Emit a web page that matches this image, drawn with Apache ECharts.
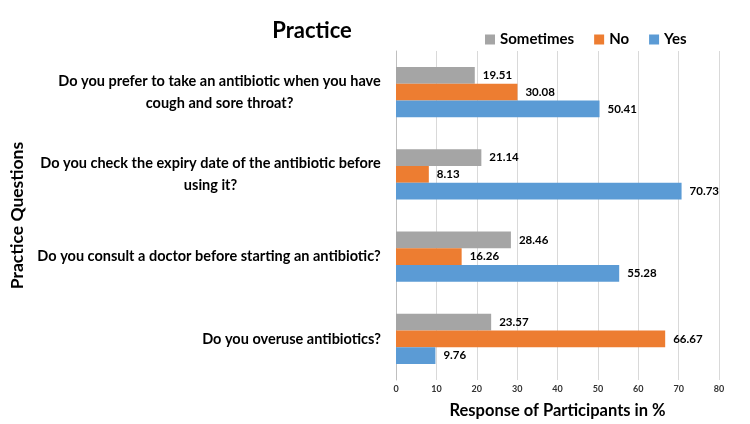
<!DOCTYPE html>
<html>
<head>
<meta charset="utf-8">
<script src="https://cdn.jsdelivr.net/npm/echarts@6/dist/echarts.min.js"></script>
<style>
  html, body { margin: 0; padding: 0; background: #fff; }
  #chart { width: 750px; height: 424px; }
</style>
</head>
<body>
<div id="chart"></div>
<script>
// bottom-to-top order, as the category axis runs upward
const questions = [
  ["Do you overuse antibiotics?"],
  ["Do you consult a doctor before starting an antibiotic?"],
  ["Do you check the expiry date of the antibiotic before", "using it?"],
  ["Do you prefer to take an antibiotic when you have", "cough and sore throat?"],
];
const yesValues = [9.76, 55.28, 70.73, 50.41];
const noValues = [66.67, 16.26, 8.13, 30.08];
const sometimesValues = [23.57, 28.46, 21.14, 19.51];
const legendOrder = ["Sometimes", "No", "Yes"];

const labelSize = 14.5;
const measure = document.createElement("canvas").getContext("2d");
measure.font = "bold " + labelSize + "px Lato";

// each label gets its own rich style so wrapped lines center under the first line
const rich = {};
questions.forEach((lines, i) => {
  const w = Math.max(...lines.map((l) => measure.measureText(l).width));
  rich["q" + i] = { width: Math.ceil(w), align: "center", fontFamily: "Lato", fontWeight: "bold", fontSize: labelSize, color: "#000", lineHeight: 22 };
});

const chart = echarts.init(document.getElementById("chart"));
const barLabel = {
  show: true,
  position: "right",
  distance: 8,
  color: "#000",
  fontFamily: "Lato",
  fontWeight: "bold",
  fontSize: 11.5,
};
chart.setOption({
  animation: false,
  title: {
    text: "Practice",
    left: 307,
    top: 15,
    textAlign: "center",
    textStyle: { fontFamily: "Lato", fontWeight: "bold", fontSize: 22, color: "#000" },
  },
  legend: {
    data: legendOrder,
    top: 27,
    left: 480,
    itemWidth: 10,
    itemHeight: 10,
    itemGap: 20,
    icon: "rect",
    textStyle: { fontFamily: "Lato", fontWeight: "bold", fontSize: 15, color: "#000" },
  },
  grid: { left: 396, right: 31, top: 51, bottom: 34, containLabel: false },
  xAxis: {
    type: "value",
    min: 0,
    max: 80,
    interval: 10,
    name: "Response of Participants in %",
    nameLocation: "middle",
    nameGap: 22,
    nameTextStyle: { fontFamily: "Lato", fontWeight: "bold", fontSize: 16.5, color: "#000" },
    axisLine: { show: false },
    axisTick: { show: false },
    axisLabel: { fontFamily: "Lato", fontWeight: "bold", fontSize: 9, color: "#333", margin: 5 },
    splitLine: { show: true, lineStyle: { color: "#d9d9d9", width: 1 } },
  },
  yAxis: {
    type: "category",
    data: questions.map((q) => q.join("\n")),
    name: "Practice Questions",
    nameLocation: "middle",
    nameGap: 370,
    nameTextStyle: { fontFamily: "Lato", fontWeight: "bold", fontSize: 17.5, color: "#000" },
    axisLine: { show: true, lineStyle: { color: "#bfbfbf" } },
    axisTick: { show: false },
    axisLabel: {
      margin: 15,
      formatter: (value, i) => value.split("\n").map((l) => "{q" + i + "|" + l + "}").join("\n"),
      rich,
    },
  },
  // first series is drawn at the top of each group
  series: [
    { name: "Sometimes", type: "bar", data: sometimesValues, itemStyle: { color: "#A5A5A5" }, barGap: "0%", barCategoryGap: "39%", label: barLabel },
    { name: "No", type: "bar", data: noValues, itemStyle: { color: "#ED7D31" }, label: barLabel },
    { name: "Yes", type: "bar", data: yesValues, itemStyle: { color: "#5B9BD5" }, label: barLabel },
  ],
});
</script>
</body>
</html>
